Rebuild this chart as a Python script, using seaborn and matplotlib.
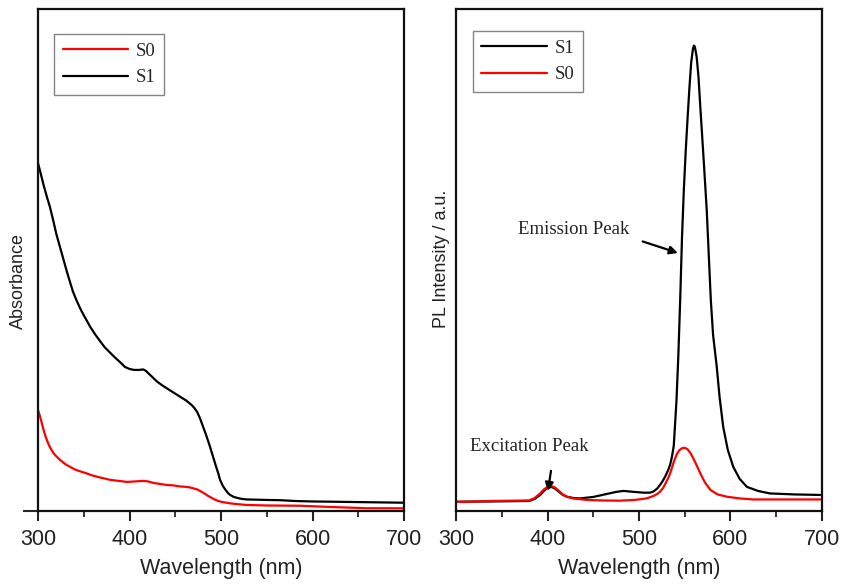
import numpy as np
import pandas as pd
import matplotlib
matplotlib.use("Agg")
import matplotlib.pyplot as plt
import seaborn as sns

# ---------------- data ----------------
abs_s1_wl = [300, 303, 306, 310, 313, 317, 320, 324, 328, 332, 335, 338, 342, 346, 350, 354, 357,
             362, 368, 373, 379, 384, 390, 395, 400, 405, 410, 415, 418, 422, 426, 430, 436, 442,
             448, 455, 462, 468, 471, 474, 477, 480, 484, 488, 491, 494, 497, 499, 502, 505, 508,
             510, 514, 518, 523, 528, 540, 550, 565, 580, 600, 622, 640, 660, 680, 699]
abs_s1 = [0.693, 0.672, 0.650, 0.624, 0.606, 0.576, 0.552, 0.526, 0.500, 0.474, 0.456, 0.438,
          0.420, 0.404, 0.390, 0.377, 0.367, 0.353, 0.338, 0.326, 0.315, 0.306, 0.296, 0.287,
          0.283, 0.281, 0.281, 0.282, 0.279, 0.272, 0.265, 0.258, 0.250, 0.243, 0.236, 0.228,
          0.220, 0.211, 0.205, 0.197, 0.185, 0.170, 0.150, 0.128, 0.110, 0.092, 0.075, 0.062,
          0.050, 0.042, 0.035, 0.032, 0.028, 0.026, 0.024, 0.023, 0.0225, 0.022, 0.0215, 0.020,
          0.019, 0.0185, 0.018, 0.0175, 0.017, 0.0165]

abs_s0_wl = [300, 302, 304, 306, 308, 310, 312, 314, 317, 320, 324, 328, 331, 336, 340, 346, 353,
             359, 365, 372, 379, 388, 397, 407, 415, 420, 426, 433, 440, 448, 455, 462, 466, 470,
             474, 477, 481, 485, 489, 493, 497, 501, 506, 511, 516, 522, 528, 550, 586, 620, 659,
             699]
abs_s0 = [0.201, 0.190, 0.176, 0.162, 0.150, 0.140, 0.131, 0.124, 0.115, 0.109, 0.102, 0.096,
          0.092, 0.087, 0.083, 0.079, 0.075, 0.071, 0.068, 0.065, 0.062, 0.060, 0.058, 0.059,
          0.060, 0.059, 0.056, 0.054, 0.052, 0.051, 0.049, 0.048, 0.047, 0.045, 0.043, 0.040,
          0.036, 0.031, 0.027, 0.023, 0.020, 0.018, 0.0165, 0.015, 0.014, 0.013, 0.012, 0.011,
          0.0105, 0.008, 0.0055, 0.0054]

pl_s1_wl = [300, 340, 380, 386, 392, 396, 400, 404, 408, 412, 416, 421, 428, 435, 450, 465, 475,
            483, 495, 505, 512, 516, 520, 523, 526, 529, 532, 534, 536, 538, 541, 543, 545, 547,
            549, 551, 553, 555, 557, 559, 560, 561, 563, 565, 567, 569, 571, 574, 576, 578.5, 581,
            585, 588, 592, 597, 603, 610, 618, 630, 643, 670, 698]
pl_s1 = [0.0185, 0.019, 0.020, 0.024, 0.032, 0.040, 0.046, 0.048, 0.045, 0.039, 0.033, 0.0285,
         0.026, 0.025, 0.028, 0.034, 0.038, 0.040, 0.038, 0.0365, 0.0365, 0.039, 0.045, 0.052,
         0.060, 0.070, 0.082, 0.092, 0.108, 0.130, 0.221, 0.310, 0.420, 0.545, 0.640, 0.715,
         0.780, 0.840, 0.893, 0.921, 0.927, 0.925, 0.905, 0.865, 0.805, 0.748, 0.690, 0.600,
         0.520, 0.420, 0.350, 0.287, 0.228, 0.168, 0.122, 0.088, 0.064, 0.048, 0.040, 0.035,
         0.033, 0.032]

pl_s0_wl = [300, 340, 380, 386, 392, 396, 400, 404, 408, 412, 416, 421, 428, 443, 460, 479, 495,
            508, 516, 520, 523, 526, 529, 532, 534, 536, 538, 541, 544, 547, 550, 553, 556, 559,
            563, 567, 572, 578, 586, 596, 610, 625, 660, 698]
pl_s0 = [0.018, 0.020, 0.021, 0.026, 0.035, 0.043, 0.048, 0.050, 0.047, 0.041, 0.034, 0.0285,
         0.025, 0.022, 0.021, 0.0205, 0.022, 0.025, 0.030, 0.034, 0.0385, 0.045, 0.055, 0.066,
         0.075, 0.086, 0.098, 0.112, 0.121, 0.125, 0.126, 0.123, 0.116, 0.106, 0.091, 0.075,
         0.057, 0.042, 0.033, 0.0285, 0.025, 0.023, 0.023, 0.023]

xticks = [300, 400, 500, 600, 700]
minor_xticks = [350, 450, 550, 650]

# ---------------- frames ----------------
abs_df = pd.concat([
    pd.DataFrame({"wl": abs_s0_wl, "val": abs_s0, "sample": "S0"}),
    pd.DataFrame({"wl": abs_s1_wl, "val": abs_s1, "sample": "S1"}),
])
pl_df = pd.concat([
    pd.DataFrame({"wl": pl_s1_wl, "val": pl_s1, "sample": "S1"}),
    pd.DataFrame({"wl": pl_s0_wl, "val": pl_s0, "sample": "S0"}),
])

sns.set_theme(style="ticks")
plt.rcParams["font.family"] = ["Liberation Sans", "DejaVu Sans"]

palette = {"S0": "#ff0000", "S1": "#000000"}

fig = plt.figure(figsize=(8.45, 5.88), dpi=100)
axL = fig.add_axes([38 / 845, 1 - 511 / 588, 366 / 845, 502 / 588])
axR = fig.add_axes([456 / 845, 1 - 511 / 588, 366 / 845, 502 / 588])

sns.lineplot(data=abs_df, x="wl", y="val", hue="sample", hue_order=["S0", "S1"],
             palette=palette, ax=axL, linewidth=1.6, sort=False, estimator=None)
sns.lineplot(data=pl_df, x="wl", y="val", hue="sample", hue_order=["S1", "S0"],
             palette=palette, ax=axR, linewidth=1.6, sort=False, estimator=None)

serif = ["Liberation Serif", "DejaVu Serif"]

for ax, anchor in ((axL, (0.044, 0.95)), (axR, (0.046, 0.956))):
    ax.set_xlim(300, 700)
    ax.set_ylim(0, 1.0)
    ax.set_xticks(xticks)
    ax.set_xticks(minor_xticks, minor=True)
    ax.tick_params(axis="x", which="major", direction="out", length=7, width=1.5,
                   labelsize=15.5, pad=6, colors="#222222")
    ax.tick_params(axis="x", which="minor", direction="out", length=4, width=1.3)
    for s in ax.spines.values():
        s.set_visible(True)
        s.set_linewidth(1.6)
        s.set_color("#111111")
    ax.set_xlabel("Wavelength (nm)", fontsize=15.5, color="#222222", labelpad=6)
    leg = ax.legend(loc="upper left", bbox_to_anchor=anchor, borderaxespad=0,
                    frameon=True, fancybox=False,
                    handlelength=3.5, handletextpad=0.4, borderpad=0.45, labelspacing=0.5,
                    prop={"family": serif, "size": 13.5})
    leg.get_frame().set_edgecolor("#666666")
    leg.get_frame().set_linewidth(1.0)

# left: single outward y tick at the bottom, no labels
axL.set_yticks([0])
axL.set_yticklabels([])
axL.tick_params(axis="y", direction="out", length=11, width=1.5)
axR.set_yticks([])

axL.set_ylabel("Absorbance", fontsize=13, color="#222222")
axL.yaxis.set_label_coords(-0.030, 0.459)
axR.set_ylabel("PL Intensity / a.u.", fontsize=13, color="#222222")
axR.yaxis.set_label_coords(-0.0164, 0.502)

axR.text(429, 0.56, "Emission Peak", fontsize=13.5, family=serif, ha="center", va="center",
         color="#222222")
axR.annotate("", xy=(542.5, 0.514), xytext=(504, 0.537),
             arrowprops=dict(arrowstyle="-|>", color="black", lw=1.6, mutation_scale=12,
                             shrinkA=0, shrinkB=0))
axR.text(380, 0.129, "Excitation Peak", fontsize=13.5, family=serif, ha="center", va="center",
         color="#222222")
axR.annotate("", xy=(400.5, 0.040), xytext=(403.8, 0.080),
             arrowprops=dict(arrowstyle="-|>", color="black", lw=1.6, mutation_scale=12,
                             shrinkA=0, shrinkB=0))

fig.savefig("out.png", dpi=100, facecolor="white")
